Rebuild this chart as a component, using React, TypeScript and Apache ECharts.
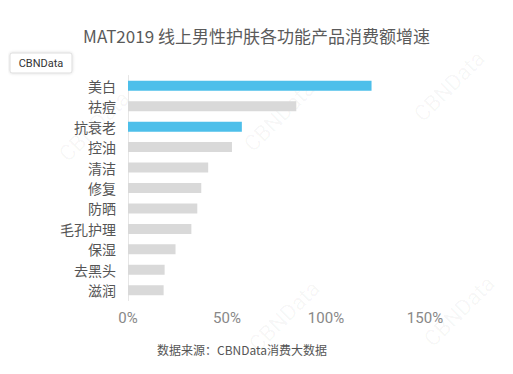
import React, { useEffect, useRef } from "react";
import * as echarts from "echarts";

const categories = ["美白", "祛痘", "抗衰老", "控油", "清洁", "修复", "防晒", "毛孔护理", "保湿", "去黑头", "滋润"];
const growth = [123, 85, 57.5, 52.5, 40.5, 37, 35, 32, 24, 18.5, 18];
const highlighted = ["美白", "抗衰老"];
const xTicks = [0, 50, 100, 150];

export default function App() {
  const ref = useRef<HTMLDivElement>(null);
  useEffect(() => {
    const chart = echarts.init(ref.current!, null, { renderer: "svg" });
    const wm = (x: number, y: number) => ({
      type: "text",
      x,
      y,
      rotation: Math.PI / 4,
      style: { text: "CBNData", fill: "rgba(0,0,0,0.04)", font: "22px Roboto" },
      z: 0,
      silent: true,
    });
    chart.setOption({
      animation: false,
      backgroundColor: "#ffffff",
      title: {
        text: "MAT2019 线上男性护肤各功能产品消费额增速",
        left: "center",
        top: 22,
        textStyle: { fontSize: 17, fontWeight: "normal", color: "#5a5a5a", fontFamily: "Noto Sans CJK SC" },
      },
      graphic: [
        wm(55, 150), wm(240, 140), wm(410, 110), wm(245, 340), wm(420, 335),
        {
          type: "rect",
          shape: { x: 10, y: 53, width: 62, height: 20, r: 2 },
          style: { fill: "#fff", stroke: "#ddd", lineWidth: 1, shadowBlur: 3, shadowColor: "rgba(0,0,0,0.15)" },
          z: 10,
        },
        {
          type: "text",
          x: 41,
          y: 63,
          style: { text: "CBNData", fill: "#333", font: "11px Roboto", textAlign: "center", textVerticalAlign: "middle" },
          z: 11,
        },
        {
          type: "text",
          x: 242,
          y: 349,
          style: { text: "数据来源：CBNData消费大数据", fill: "#555", font: "12px 'Noto Sans CJK SC'", textAlign: "center", textVerticalAlign: "middle" },
          z: 11,
        },
      ],
      grid: { left: 128, right: 88, top: 75.5, bottom: 73.5, containLabel: false },
      xAxis: {
        type: "value",
        min: 0,
        max: 150,
        interval: 50,
        splitLine: { show: false },
        axisLine: { show: false },
        axisTick: { show: false },
        axisLabel: {
          formatter: (v: number) => (xTicks.includes(v) ? v + "%" : ""),
          color: "#888",
          fontSize: 15,
          margin: 10,
          fontFamily: "Roboto",
        },
      },
      yAxis: {
        type: "category",
        inverse: true,
        data: categories,
        axisLine: { show: true, lineStyle: { color: "#e6e6e6" } },
        axisTick: { show: false },
        axisLabel: { color: "#555", fontSize: 14, margin: 12, fontFamily: "Noto Sans CJK SC" },
      },
      series: [
        {
          type: "bar",
          barWidth: 10,
          data: growth.map((v, i) => ({
            value: v,
            itemStyle: { color: highlighted.includes(categories[i]) ? "#4dbfea" : "#d9d9d9" },
          })),
        },
      ],
    });
    return () => chart.dispose();
  }, []);
  return <div ref={ref} style={{ width: 513, height: 374, margin: -8 }} />;
}
